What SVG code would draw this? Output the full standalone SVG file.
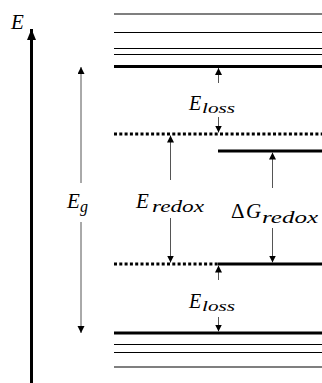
<svg xmlns="http://www.w3.org/2000/svg" width="322" height="383" viewBox="0 0 322 383">
<style>
.thin{stroke:#000;stroke-width:1.2;fill:none}
.thick{stroke:#000;stroke-width:3;fill:none}
.dot{stroke:#000;stroke-width:3;stroke-dasharray:3 2.3;fill:none}
.arr{stroke:#555;stroke-width:1;fill:none;marker-end:url(#ah)}
.m{font-family:"Liberation Serif","DejaVu Serif",serif;font-style:italic;fill:#000}
.up{font-style:normal}
</style>
<defs>
<marker id="ah" markerUnits="userSpaceOnUse" markerWidth="8" markerHeight="8" refX="7" refY="3.5" orient="auto">
<path d="M0,0 L7,3.5 L0,7 Z" fill="#000"/>
</marker>
<marker id="bigah" markerUnits="userSpaceOnUse" markerWidth="12" markerHeight="10" refX="11" refY="4.5" orient="auto">
<path d="M0,0 L11,4.5 L0,9 Z" fill="#000"/>
</marker>
</defs>
<g id="axis">
<line x1="31.5" y1="383" x2="31.5" y2="29" stroke="#000" stroke-width="3" marker-end="url(#bigah)"/>
<text class="m" x="11" y="29" font-size="21">E</text>
</g>
<g id="upper-levels">
<line class="thin" x1="114" y1="14" x2="322" y2="14"/>
<line class="thin" x1="114" y1="32.5" x2="322" y2="32.5"/>
<line class="thin" x1="114" y1="48.5" x2="322" y2="48.5"/>
<line class="thin" x1="114" y1="54.5" x2="322" y2="54.5"/>
<line class="thick" x1="114" y1="66.5" x2="322" y2="66.5"/>
</g>
<g id="redox-levels">
<line class="dot" x1="114" y1="134" x2="322" y2="134"/>
<line class="thick" x1="218" y1="151" x2="322" y2="151"/>
<line class="dot" x1="114" y1="264" x2="218" y2="264"/>
<line class="thick" x1="218" y1="264" x2="322" y2="264"/>
</g>
<g id="lower-levels">
<line class="thick" x1="114" y1="333" x2="322" y2="333"/>
<line class="thin" x1="114" y1="344.5" x2="322" y2="344.5"/>
<line class="thin" x1="114" y1="352.5" x2="322" y2="352.5"/>
<line class="thin" x1="114" y1="367" x2="322" y2="367"/>
</g>
<g id="connectors">
<line class="arr" x1="81" y1="183" x2="81" y2="67"/>
<line class="arr" x1="81" y1="222" x2="81" y2="333"/>
<line class="arr" x1="218.5" y1="83" x2="218.5" y2="68"/>
<line class="arr" x1="218.5" y1="117" x2="218.5" y2="132.5"/>
<line class="arr" x1="170.5" y1="180" x2="170.5" y2="135.5"/>
<line class="arr" x1="170.5" y1="218" x2="170.5" y2="262.5"/>
<line class="arr" x1="272.5" y1="188" x2="272.5" y2="152.5"/>
<line class="arr" x1="272.5" y1="228" x2="272.5" y2="262.5"/>
<line class="arr" x1="218.5" y1="280" x2="218.5" y2="265.5"/>
<line class="arr" x1="218.5" y1="317" x2="218.5" y2="331.5"/>
</g>
<g id="label-eg">
<text class="m" x="67" y="208" font-size="21">E</text>
<text class="m" x="80" y="212" font-size="16">g</text>
</g>
<g id="label-eloss-top">
<text class="m" x="189" y="110" font-size="20">E</text>
<text class="m" x="202" y="113" font-size="15" textLength="33" lengthAdjust="spacingAndGlyphs">loss</text>
</g>
<g id="label-eredox">
<text class="m" x="136" y="208" font-size="21">E</text>
<text class="m" x="152" y="212" font-size="16" textLength="52" lengthAdjust="spacingAndGlyphs">redox</text>
</g>
<g id="label-dgredox">
<text class="m up" x="231" y="218" font-size="21">Δ</text>
<text class="m" x="246" y="218" font-size="21">G</text>
<text class="m" x="262" y="223" font-size="16" textLength="56" lengthAdjust="spacingAndGlyphs">redox</text>
</g>
<g id="label-eloss-bottom">
<text class="m" x="189" y="308" font-size="20">E</text>
<text class="m" x="202" y="311" font-size="15" textLength="33" lengthAdjust="spacingAndGlyphs">loss</text>
</g>
</svg>
